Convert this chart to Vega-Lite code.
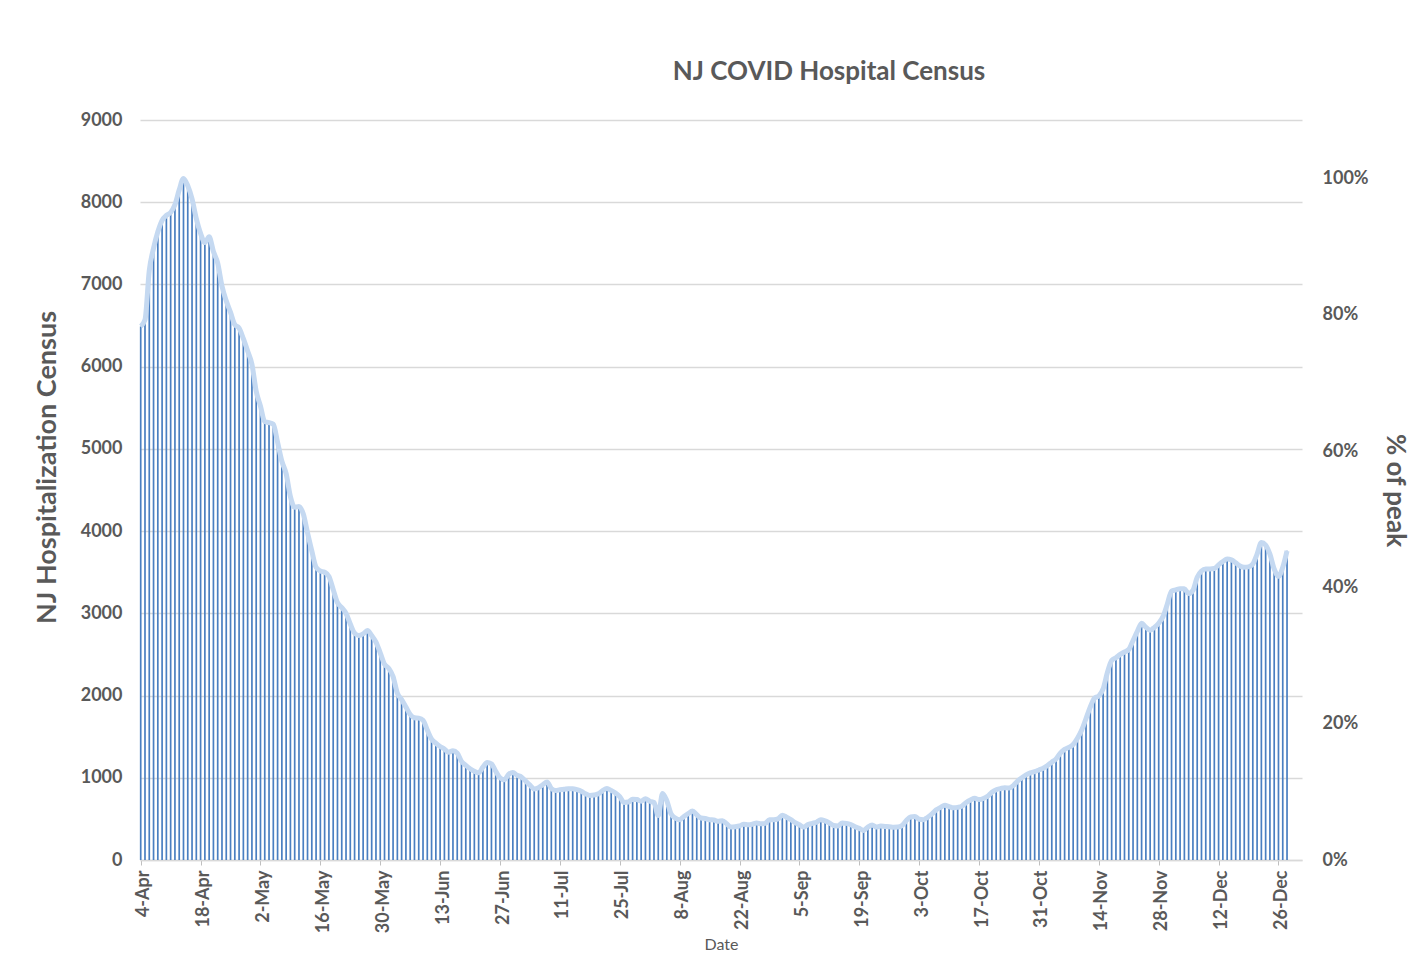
{
  "$schema": "https://vega.github.io/schema/vega-lite/v6.json",
  "width": 1162,
  "height": 740,
  "autosize": {"type": "none"},
  "padding": {"left": 140, "top": 120, "right": 122, "bottom": 95},
  "background": "white",
  "title": {
    "text": "NJ COVID Hospital Census",
    "font": "Lato",
    "fontSize": 26,
    "fontWeight": "bold",
    "color": "#595959",
    "anchor": "middle",
    "offset": 26,
    "dx": 108
  },
  "data": {"values": [
    {"d":"2020-04-04","v":6490},{"d":"2020-04-05","v":6570},{"d":"2020-04-06","v":7170},{"d":"2020-04-07","v":7440},{"d":"2020-04-08","v":7640},{"d":"2020-04-09","v":7780},{"d":"2020-04-10","v":7840},{"d":"2020-04-11","v":7875},{"d":"2020-04-12","v":7970},{"d":"2020-04-13","v":8150},{"d":"2020-04-14","v":8290},{"d":"2020-04-15","v":8200},{"d":"2020-04-16","v":8040},{"d":"2020-04-17","v":7800},{"d":"2020-04-18","v":7620},{"d":"2020-04-19","v":7510},{"d":"2020-04-20","v":7580},{"d":"2020-04-21","v":7400},{"d":"2020-04-22","v":7260},{"d":"2020-04-23","v":6980},{"d":"2020-04-24","v":6800},{"d":"2020-04-25","v":6660},{"d":"2020-04-26","v":6510},{"d":"2020-04-27","v":6470},{"d":"2020-04-28","v":6340},{"d":"2020-04-29","v":6190},{"d":"2020-04-30","v":6030},
    {"d":"2020-05-01","v":5700},{"d":"2020-05-02","v":5520},{"d":"2020-05-03","v":5330},{"d":"2020-05-04","v":5320},{"d":"2020-05-05","v":5300},{"d":"2020-05-06","v":5080},{"d":"2020-05-07","v":4850},{"d":"2020-05-08","v":4700},{"d":"2020-05-09","v":4420},{"d":"2020-05-10","v":4290},{"d":"2020-05-11","v":4300},{"d":"2020-05-12","v":4210},{"d":"2020-05-13","v":3980},{"d":"2020-05-14","v":3760},{"d":"2020-05-15","v":3560},{"d":"2020-05-16","v":3515},{"d":"2020-05-17","v":3500},{"d":"2020-05-18","v":3450},{"d":"2020-05-19","v":3290},{"d":"2020-05-20","v":3130},{"d":"2020-05-21","v":3070},{"d":"2020-05-22","v":3000},{"d":"2020-05-23","v":2870},{"d":"2020-05-24","v":2760},{"d":"2020-05-25","v":2730},{"d":"2020-05-26","v":2750},{"d":"2020-05-27","v":2790},{"d":"2020-05-28","v":2730},{"d":"2020-05-29","v":2650},{"d":"2020-05-30","v":2520},{"d":"2020-05-31","v":2380},
    {"d":"2020-06-01","v":2330},{"d":"2020-06-02","v":2230},{"d":"2020-06-03","v":2030},{"d":"2020-06-04","v":1950},{"d":"2020-06-05","v":1860},{"d":"2020-06-06","v":1770},{"d":"2020-06-07","v":1730},{"d":"2020-06-08","v":1725},{"d":"2020-06-09","v":1700},{"d":"2020-06-10","v":1580},{"d":"2020-06-11","v":1470},{"d":"2020-06-12","v":1420},{"d":"2020-06-13","v":1380},{"d":"2020-06-14","v":1350},{"d":"2020-06-15","v":1310},{"d":"2020-06-16","v":1330},{"d":"2020-06-17","v":1300},{"d":"2020-06-18","v":1200},{"d":"2020-06-19","v":1150},{"d":"2020-06-20","v":1110},{"d":"2020-06-21","v":1080},{"d":"2020-06-22","v":1060},{"d":"2020-06-23","v":1130},{"d":"2020-06-24","v":1185},{"d":"2020-06-25","v":1170},{"d":"2020-06-26","v":1080},{"d":"2020-06-27","v":1000},{"d":"2020-06-28","v":975},{"d":"2020-06-29","v":1040},{"d":"2020-06-30","v":1065},
    {"d":"2020-07-01","v":1030},{"d":"2020-07-02","v":1010},{"d":"2020-07-03","v":960},{"d":"2020-07-04","v":910},{"d":"2020-07-05","v":865},{"d":"2020-07-06","v":880},{"d":"2020-07-07","v":915},{"d":"2020-07-08","v":950},{"d":"2020-07-09","v":870},{"d":"2020-07-10","v":845},{"d":"2020-07-11","v":855},{"d":"2020-07-12","v":860},{"d":"2020-07-13","v":868},{"d":"2020-07-14","v":868},{"d":"2020-07-15","v":855},{"d":"2020-07-16","v":835},{"d":"2020-07-17","v":805},{"d":"2020-07-18","v":785},{"d":"2020-07-19","v":790},{"d":"2020-07-20","v":805},{"d":"2020-07-21","v":845},{"d":"2020-07-22","v":870},{"d":"2020-07-23","v":845},{"d":"2020-07-24","v":815},{"d":"2020-07-25","v":770},{"d":"2020-07-26","v":700},{"d":"2020-07-27","v":705},{"d":"2020-07-28","v":740},{"d":"2020-07-29","v":735},{"d":"2020-07-30","v":715},{"d":"2020-07-31","v":745},
    {"d":"2020-08-01","v":715},{"d":"2020-08-02","v":700},{"d":"2020-08-03","v":540},{"d":"2020-08-04","v":810},{"d":"2020-08-05","v":720},{"d":"2020-08-06","v":560},{"d":"2020-08-07","v":510},{"d":"2020-08-08","v":490},{"d":"2020-08-09","v":530},{"d":"2020-08-10","v":565},{"d":"2020-08-11","v":595},{"d":"2020-08-12","v":550},{"d":"2020-08-13","v":510},{"d":"2020-08-14","v":505},{"d":"2020-08-15","v":490},{"d":"2020-08-16","v":487},{"d":"2020-08-17","v":470},{"d":"2020-08-18","v":478},{"d":"2020-08-19","v":440},{"d":"2020-08-20","v":400},{"d":"2020-08-21","v":405},{"d":"2020-08-22","v":415},{"d":"2020-08-23","v":435},{"d":"2020-08-24","v":428},{"d":"2020-08-25","v":435},{"d":"2020-08-26","v":450},{"d":"2020-08-27","v":440},{"d":"2020-08-28","v":445},{"d":"2020-08-29","v":490},{"d":"2020-08-30","v":490},{"d":"2020-08-31","v":500},
    {"d":"2020-09-01","v":545},{"d":"2020-09-02","v":520},{"d":"2020-09-03","v":490},{"d":"2020-09-04","v":455},{"d":"2020-09-05","v":428},{"d":"2020-09-06","v":400},{"d":"2020-09-07","v":430},{"d":"2020-09-08","v":445},{"d":"2020-09-09","v":460},{"d":"2020-09-10","v":490},{"d":"2020-09-11","v":475},{"d":"2020-09-12","v":450},{"d":"2020-09-13","v":420},{"d":"2020-09-14","v":414},{"d":"2020-09-15","v":450},{"d":"2020-09-16","v":445},{"d":"2020-09-17","v":430},{"d":"2020-09-18","v":405},{"d":"2020-09-19","v":385},{"d":"2020-09-20","v":360},{"d":"2020-09-21","v":400},{"d":"2020-09-22","v":425},{"d":"2020-09-23","v":400},{"d":"2020-09-24","v":412},{"d":"2020-09-25","v":408},{"d":"2020-09-26","v":405},{"d":"2020-09-27","v":398},{"d":"2020-09-28","v":400},{"d":"2020-09-29","v":420},{"d":"2020-09-30","v":480},
    {"d":"2020-10-01","v":525},{"d":"2020-10-02","v":530},{"d":"2020-10-03","v":495},{"d":"2020-10-04","v":490},{"d":"2020-10-05","v":520},{"d":"2020-10-06","v":560},{"d":"2020-10-07","v":610},{"d":"2020-10-08","v":640},{"d":"2020-10-09","v":665},{"d":"2020-10-10","v":650},{"d":"2020-10-11","v":635},{"d":"2020-10-12","v":640},{"d":"2020-10-13","v":655},{"d":"2020-10-14","v":700},{"d":"2020-10-15","v":730},{"d":"2020-10-16","v":750},{"d":"2020-10-17","v":735},{"d":"2020-10-18","v":748},{"d":"2020-10-19","v":775},{"d":"2020-10-20","v":825},{"d":"2020-10-21","v":855},{"d":"2020-10-22","v":868},{"d":"2020-10-23","v":880},{"d":"2020-10-24","v":875},{"d":"2020-10-25","v":905},{"d":"2020-10-26","v":960},{"d":"2020-10-27","v":1000},{"d":"2020-10-28","v":1035},{"d":"2020-10-29","v":1060},{"d":"2020-10-30","v":1075},{"d":"2020-10-31","v":1095},
    {"d":"2020-11-01","v":1115},{"d":"2020-11-02","v":1150},{"d":"2020-11-03","v":1190},{"d":"2020-11-04","v":1230},{"d":"2020-11-05","v":1300},{"d":"2020-11-06","v":1345},{"d":"2020-11-07","v":1370},{"d":"2020-11-08","v":1405},{"d":"2020-11-09","v":1480},{"d":"2020-11-10","v":1580},{"d":"2020-11-11","v":1720},{"d":"2020-11-12","v":1860},{"d":"2020-11-13","v":1970},{"d":"2020-11-14","v":1995},{"d":"2020-11-15","v":2080},{"d":"2020-11-16","v":2280},{"d":"2020-11-17","v":2425},{"d":"2020-11-18","v":2460},{"d":"2020-11-19","v":2500},{"d":"2020-11-20","v":2530},{"d":"2020-11-21","v":2560},{"d":"2020-11-22","v":2670},{"d":"2020-11-23","v":2780},{"d":"2020-11-24","v":2880},{"d":"2020-11-25","v":2830},{"d":"2020-11-26","v":2795},{"d":"2020-11-27","v":2830},{"d":"2020-11-28","v":2880},{"d":"2020-11-29","v":2960},{"d":"2020-11-30","v":3110},
    {"d":"2020-12-01","v":3270},{"d":"2020-12-02","v":3285},{"d":"2020-12-03","v":3300},{"d":"2020-12-04","v":3300},{"d":"2020-12-05","v":3240},{"d":"2020-12-06","v":3280},{"d":"2020-12-07","v":3440},{"d":"2020-12-08","v":3515},{"d":"2020-12-09","v":3540},{"d":"2020-12-10","v":3540},{"d":"2020-12-11","v":3545},{"d":"2020-12-12","v":3590},{"d":"2020-12-13","v":3630},{"d":"2020-12-14","v":3660},{"d":"2020-12-15","v":3650},{"d":"2020-12-16","v":3615},{"d":"2020-12-17","v":3575},{"d":"2020-12-18","v":3560},{"d":"2020-12-19","v":3565},{"d":"2020-12-20","v":3600},{"d":"2020-12-21","v":3720},{"d":"2020-12-22","v":3860},{"d":"2020-12-23","v":3830},{"d":"2020-12-24","v":3720},{"d":"2020-12-25","v":3540},{"d":"2020-12-26","v":3450},{"d":"2020-12-27","v":3560},{"d":"2020-12-28","v":3760}
  ]},
  "encoding": {
    "x": {
      "field": "d",
      "type": "temporal",
      "scale": {
        "type": "utc",
        "nice": false,
        "padding": 0,
        "domain": [
          {"year": 2020, "month": "Apr", "date": 3, "hours": 20, "utc": true},
          {"year": 2020, "month": "Dec", "date": 31, "hours": 12, "utc": true}
        ]
      },
      "axis": {
        "title": "Date",
        "titleFont": "Lato",
        "titleFontSize": 16,
        "titleFontWeight": "normal",
        "titleColor": "#595959",
        "titlePadding": 4,
        "values": [
          {"year": 2020, "month": "Apr", "date": 4, "utc": true},
          {"year": 2020, "month": "Apr", "date": 18, "utc": true},
          {"year": 2020, "month": "May", "date": 2, "utc": true},
          {"year": 2020, "month": "May", "date": 16, "utc": true},
          {"year": 2020, "month": "May", "date": 30, "utc": true},
          {"year": 2020, "month": "Jun", "date": 13, "utc": true},
          {"year": 2020, "month": "Jun", "date": 27, "utc": true},
          {"year": 2020, "month": "Jul", "date": 11, "utc": true},
          {"year": 2020, "month": "Jul", "date": 25, "utc": true},
          {"year": 2020, "month": "Aug", "date": 8, "utc": true},
          {"year": 2020, "month": "Aug", "date": 22, "utc": true},
          {"year": 2020, "month": "Sep", "date": 5, "utc": true},
          {"year": 2020, "month": "Sep", "date": 19, "utc": true},
          {"year": 2020, "month": "Oct", "date": 3, "utc": true},
          {"year": 2020, "month": "Oct", "date": 17, "utc": true},
          {"year": 2020, "month": "Oct", "date": 31, "utc": true},
          {"year": 2020, "month": "Nov", "date": 14, "utc": true},
          {"year": 2020, "month": "Nov", "date": 28, "utc": true},
          {"year": 2020, "month": "Dec", "date": 12, "utc": true},
          {"year": 2020, "month": "Dec", "date": 26, "utc": true}
        ],
        "format": "%-d-%b",
        "labelAngle": -90,
        "labelOffset": 3,
        "labelFont": "Lato",
        "labelFontSize": 18,
        "labelFontWeight": "bold",
        "labelColor": "#595959",
        "labelPadding": 5,
        "labelOverlap": false,
        "labelFlush": false,
        "tickColor": "#bfbfbf",
        "tickSize": 5,
        "domainColor": "#d9d9d9",
        "domainWidth": 1.3,
        "grid": false
      }
    }
  },
  "layer": [
    {
      "mark": {"type": "bar", "size": 1.7, "color": "#4a7fc1"},
      "encoding": {
        "y": {
          "field": "v",
          "type": "quantitative",
          "scale": {"domain": [0, 9000], "nice": false},
          "axis": {
            "title": "NJ Hospitalization Census",
            "titleFont": "Lato",
            "titleFontSize": 27,
            "titleFontWeight": "bold",
            "titleColor": "#595959",
            "titlePadding": 19,
            "titleY": 347,
            "values": [0, 1000, 2000, 3000, 4000, 5000, 6000, 7000, 8000, 9000],
            "format": "d",
            "labelFont": "Lato",
            "labelFontSize": 18,
            "labelFontWeight": "bold",
            "labelColor": "#595959",
            "labelPadding": 18,
            "ticks": false,
            "domain": false,
            "grid": true,
            "gridColor": "#d9d9d9",
            "gridWidth": 1.3
          }
        }
      }
    },
    {
      "mark": {"type": "line", "color": "#c5d9f1", "strokeWidth": 5, "interpolate": "monotone"},
      "encoding": {
        "y": {
          "field": "v",
          "type": "quantitative",
          "scale": {"domain": [0, 9000], "nice": false},
          "axis": {
            "orient": "right",
            "title": "% of peak",
            "titleFont": "Lato",
            "titleFontSize": 26,
            "titleFontWeight": "bold",
            "titleColor": "#595959",
            "titlePadding": 13,
            "values": [0, 1658, 3316, 4974, 6632, 8290],
            "labelExpr": "format(datum.value / 8290, '.0%')",
            "labelFont": "Lato",
            "labelFontSize": 18,
            "labelFontWeight": "bold",
            "labelColor": "#595959",
            "labelPadding": 20,
            "ticks": false,
            "domain": false,
            "grid": false
          }
        }
      }
    }
  ],
  "resolve": {"scale": {"y": "independent"}, "axis": {"y": "independent"}},
  "config": {"view": {"stroke": null}}
}
